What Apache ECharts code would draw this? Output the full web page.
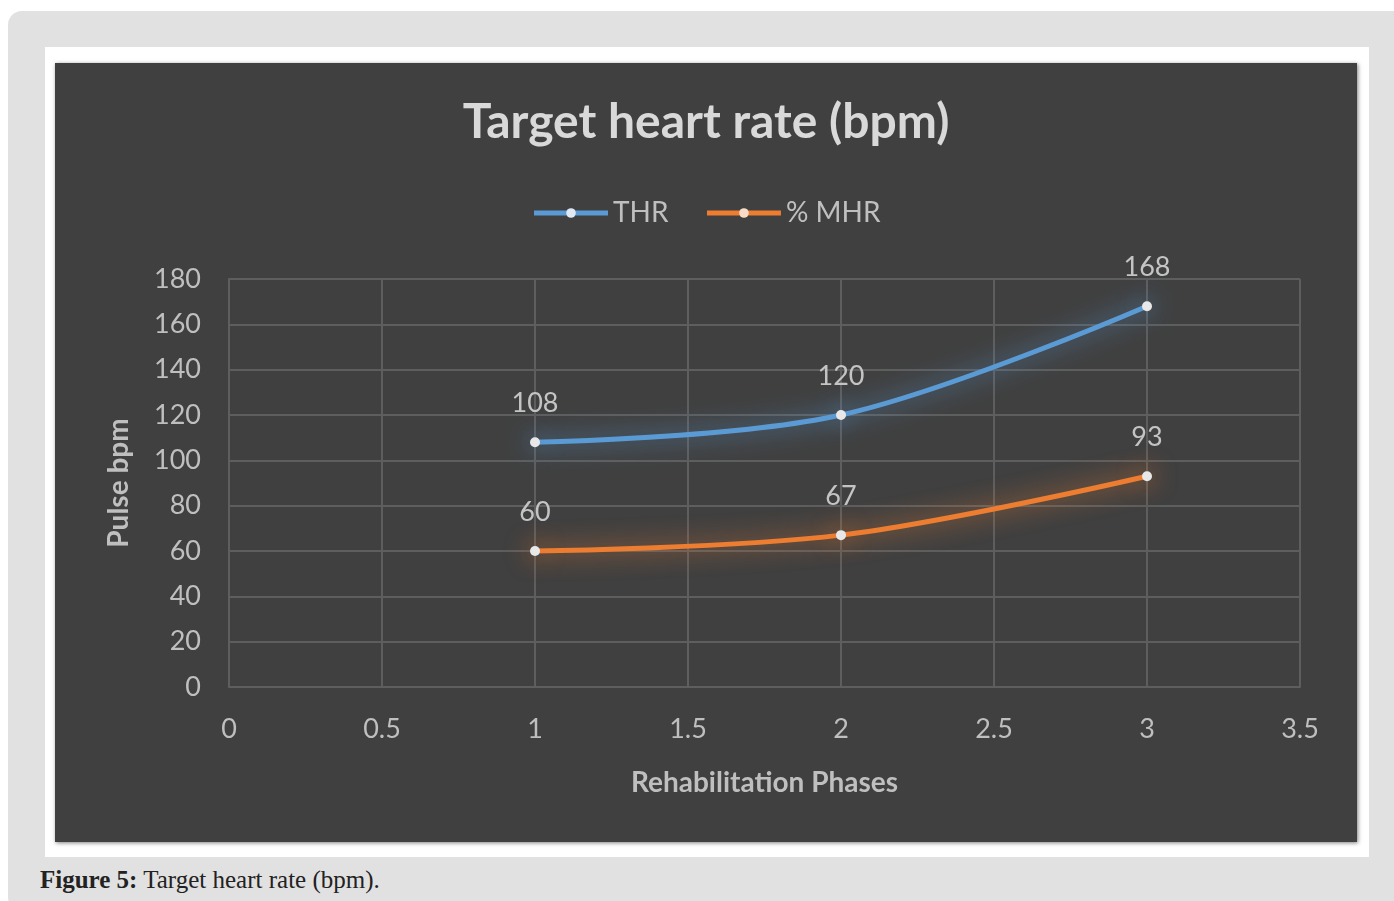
<!DOCTYPE html>
<html>
<head>
<meta charset="utf-8">
<script src="https://cdn.jsdelivr.net/npm/echarts@6/dist/echarts.min.js"></script>
<style>
  html, body { margin: 0; padding: 0; background: #fff; }
  .outer { position: absolute; left: 8px; top: 11px; width: 1400px; height: 900px; background: #e1e1e1; border-radius: 14px; }
  .panel { position: absolute; left: 45px; top: 47px; width: 1324px; height: 810px; background: #fff; }
  #chart { position: absolute; left: 55px; top: 63px; width: 1302px; height: 779px; background: #404040; box-shadow: 1px 1px 4px rgba(0,0,0,0.5); }
  .caption { position: absolute; left: 40px; top: 866px; font-family: "Liberation Serif", "DejaVu Serif", serif; font-size: 25px; color: #222; }
</style>
</head>
<body>
<div class="outer"></div>
<div class="panel"></div>
<div id="chart"></div>
<div class="caption"><b>Figure 5:</b> Target heart rate (bpm).</div>
<script>
  const phases = [1, 2, 3]
  const thr = [108, 120, 168]
  const mhr = [60, 67, 93]

  const font = 'Lato, "Open Sans", sans-serif'
  const chart = echarts.init(document.getElementById('chart'))

  const makeSeries = (name, values, color, glow) => ({
    name: name,
    type: 'line',
    smooth: 0.35,
    data: phases.map((p, i) => [p, values[i]]),
    symbol: 'circle',
    symbolSize: 10,
    lineStyle: { color: color, width: 5, shadowColor: glow, shadowBlur: 24 },
    itemStyle: { color: '#e8e8e8', borderColor: color, borderWidth: 0, shadowColor: glow, shadowBlur: 26 },
    label: {
      show: true, position: 'top', distance: 20,
      color: '#c4c4c4', fontSize: 27, fontFamily: font
    }
  })

  const option = {
    animation: false,
    title: {
      text: 'Target heart rate (bpm)',
      left: 'center', top: 31,
      textStyle: { color: '#d9d9d9', fontSize: 48, fontWeight: 'bold', fontFamily: font }
    },
    legend: {
      top: 131, left: 'center',
      itemWidth: 74, itemHeight: 12, itemGap: 36,
      textStyle: { color: '#bfbfbf', fontSize: 28, fontFamily: font },
      data: [
        { name: 'THR', itemStyle: { color: '#dfe9f6' }, lineStyle: { width: 5 } },
        { name: '% MHR', itemStyle: { color: '#f8dcc8' }, lineStyle: { width: 5 } }
      ]
    },
    grid: { left: 174, right: 57, top: 216, bottom: 155 },
    xAxis: {
      type: 'value', min: 0, max: 3.5, interval: 0.5,
      name: 'Rehabilitation Phases', nameLocation: 'middle', nameGap: 82,
      nameTextStyle: { color: '#bfbfbf', fontSize: 28, fontWeight: 'bold', fontFamily: font },
      axisLine: { show: true, lineStyle: { color: '#5e5e5e', width: 2 } },
      axisTick: { show: false },
      axisLabel: { color: '#bfbfbf', fontSize: 27, margin: 29, fontFamily: font },
      splitLine: { show: true, lineStyle: { color: '#5e5e5e', width: 2 } }
    },
    yAxis: {
      type: 'value', min: 0, max: 180, interval: 20,
      name: 'Pulse bpm', nameLocation: 'middle', nameGap: 96,
      nameTextStyle: { color: '#bfbfbf', fontSize: 28, fontWeight: 'bold', fontFamily: font },
      axisLine: { show: true, lineStyle: { color: '#5e5e5e', width: 2 } },
      axisTick: { show: false },
      axisLabel: { color: '#bfbfbf', fontSize: 27, margin: 28, fontFamily: font },
      splitLine: { show: true, lineStyle: { color: '#5e5e5e', width: 2 } }
    },
    series: [
      makeSeries('THR', thr, '#5b9bd5', 'rgba(91,155,213,0.95)'),
      makeSeries('% MHR', mhr, '#ed7d31', 'rgba(237,125,49,0.95)')
    ]
  }
  chart.setOption(option)
</script>
</body>
</html>
